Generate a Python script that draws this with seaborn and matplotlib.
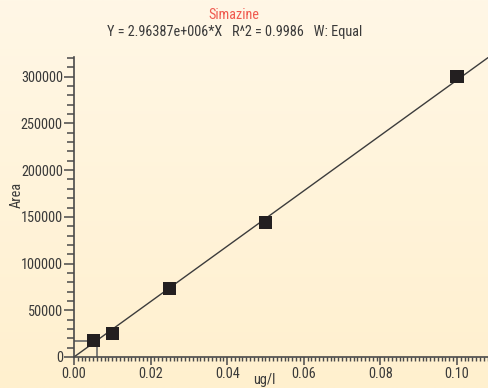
import numpy as np
import pandas as pd
import matplotlib.pyplot as plt
from matplotlib.ticker import MultipleLocator, FormatStrFormatter
import seaborn as sns

# calibration standards
conc = [0.005, 0.010, 0.025, 0.050, 0.100]
area = [17500, 25500, 73000, 144000, 300500]
slope = 2.96387e6
fit_conc = [0.0, 0.1085]
sample_area = 17500
title = "Simazine"
subtitle = "Y = 2.96387e+006*X   R^2 = 0.9986   W: Equal"

sns.set_style("ticks")
plt.rcParams["font.family"] = ["Roboto Condensed", "Liberation Sans", "DejaVu Sans"]
txt = "#3a3a3a"
fs = 10.3

fig = plt.figure(figsize=(4.88, 3.88), dpi=100)

# cream gradient background
bg = fig.add_axes([0, 0, 1, 1], zorder=-10)
grad = np.linspace(0, 1, 256).reshape(-1, 1)
top = np.array([255, 247, 230]) / 255
bot = np.array([255, 240, 206]) / 255
img = top + (bot - top) * grad[..., None]
bg.imshow(img, aspect="auto", extent=[0, 1, 0, 1])
bg.axis("off")

ax = fig.add_axes([0.1516, 0.0799, 0.8484, 0.773])
ax.patch.set_alpha(0)

fit = pd.DataFrame({"conc": fit_conc})
fit["area"] = fit["conc"] * slope
sns.lineplot(data=fit, x="conc", y="area", color="#3c3c3c", lw=1, ax=ax)

sample_conc = sample_area / slope
ax.plot([0, sample_conc, sample_conc], [sample_area, sample_area, 0],
        color="#6a6a6a", lw=1.2)

df = pd.DataFrame({"conc": conc, "area": area})
sns.scatterplot(data=df, x="conc", y="area", marker="s", s=90,
                color="#231f20", edgecolor="none", ax=ax, zorder=5)

ax.set_xlim(0, 0.1081)
ax.set_ylim(0, 321000)
ax.xaxis.set_major_locator(MultipleLocator(0.02))
ax.xaxis.set_minor_locator(MultipleLocator(0.001))
ax.xaxis.set_major_formatter(FormatStrFormatter("%.2f"))
ax.yaxis.set_major_locator(MultipleLocator(50000))
ax.yaxis.set_minor_locator(MultipleLocator(10000))
ax.yaxis.set_major_formatter(FormatStrFormatter("%d"))

for s in ["top", "right"]:
    ax.spines[s].set_visible(False)
for s in ["left", "bottom"]:
    ax.spines[s].set_color("#4a4a4a")
    ax.spines[s].set_linewidth(1.2)
ax.tick_params(axis="both", which="major", color="#4a4a4a", labelcolor=txt,
               labelsize=fs, width=1.1)
ax.tick_params(axis="y", which="major", length=7, pad=1)
ax.tick_params(axis="y", which="minor", length=5, width=1.1, color="#4a4a4a")
ax.tick_params(axis="x", which="major", length=6, pad=1)
ax.tick_params(axis="x", which="minor", length=3, width=1, color="#4a4a4a")

ax.set_xlabel("")
ax.set_ylabel("")
fig.text(0.035, 0.497, "Area", rotation=90, ha="center", va="center",
         fontsize=fs, color=txt)
fig.text(0.541, 0.02, "ug/l", ha="center", va="center", fontsize=fs, color=txt)

fig.text(0.48, 0.962, title, ha="center", va="center", fontsize=fs,
         color="#f05a4f")
fig.text(0.48, 0.918, subtitle, ha="center", va="center", fontsize=fs,
         color=txt)

fig.savefig("out.png", dpi=100)
